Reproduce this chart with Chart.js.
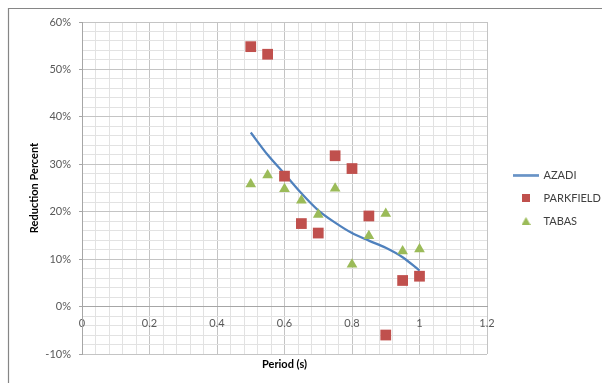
<!DOCTYPE html>
<html>
<head>
<meta charset="utf-8">
<script src="https://cdn.jsdelivr.net/npm/chart.js@4/dist/chart.umd.min.js"></script>
<style>
html,body{margin:0;padding:0;background:#fff;}
#wrap{position:relative;width:602px;height:383px;}
</style>
</head>
<body>
<div id="wrap"><canvas id="c" width="602" height="383"></canvas></div>
<script>
// ---- data ----
const periods = [0.5, 0.55, 0.6, 0.65, 0.7, 0.75, 0.8, 0.85, 0.9, 0.95, 1.0];
const azadi = [36.7, 32.0, 28.0, 23.9, 20.3, 17.7, 15.5, 13.9, 12.4, 10.4, 7.6];
const parkfield = [54.8, 53.2, 27.5, 17.5, 15.5, 31.8, 29.1, 19.1, -6.0, 5.5, 6.4];
const tabas = [25.8, 27.7, 24.8, 22.4, 19.4, 24.9, 8.9, 14.9, 19.6, 11.7, 12.1];
const seriesNames = ['AZADI', 'PARKFIELD', 'TABAS'];
const xTickLabels = ['0', '0.2', '0.4', '0.6', '0.8', '1', '1.2'];
const yTickLabels = ['-10%', '0%', '10%', '20%', '30%', '40%', '50%', '60%'];
const xTitle = 'Period (s)';
const yTitle = 'Reduction Percent';

const BLUE = '#4F81BD', RED = '#C0504D', GREEN = '#9BBB59';
Chart.defaults.font.family = 'Lato, "Open Sans", sans-serif';
Chart.defaults.font.size = 11;

function pts(ys){ return periods.map((x,i)=>({x:x, y:ys[i]})); }
function isMajor(v, step){ const r = v/step; return Math.abs(r - Math.round(r)) < 1e-6; }

// legend icons
function mk(w,h,draw){ const c=document.createElement('canvas'); c.width=w; c.height=h; draw(c.getContext('2d')); return c; }
const icons = [
  mk(26,3,g=>{ g.fillStyle=BLUE; g.fillRect(0,0.5,26,2.2); }),
  mk(8,8,g=>{ g.fillStyle=RED; g.fillRect(0,0,8,8); }),
  mk(9,8,g=>{ g.fillStyle=GREEN; g.beginPath(); g.moveTo(4.5,0); g.lineTo(9,8); g.lineTo(0,8); g.closePath(); g.fill(); })
];

const framePlugin = {
  id:'frame',
  beforeDraw(chart){
    const ctx = chart.ctx;
    ctx.save();
    ctx.strokeStyle = '#868686';
    ctx.lineWidth = 1.2;
    ctx.beginPath();
    ctx.moveTo(8.5, 400); ctx.lineTo(8.5, 8.5); ctx.lineTo(620, 8.5);
    ctx.stroke();
    ctx.restore();
  },
  afterDraw(chart){
    const ctx = chart.ctx, a = chart.chartArea;
    ctx.save();
    ctx.font = 'bold 11px Lato, "Open Sans", sans-serif';
    ctx.fillStyle = '#000';
    ctx.textAlign = 'center';
    ctx.textBaseline = 'middle';
    ctx.fillText(xTitle, (a.left + a.right)/2, 364);
    ctx.restore();
  }
};

new Chart(document.getElementById('c'), {
  type: 'scatter',
  data: {
    datasets: [
      { label: seriesNames[0], type:'line', data: pts(azadi), showLine:true, borderColor: BLUE, backgroundColor: BLUE,
        borderWidth: 2.25, pointRadius: 0, cubicInterpolationMode:'monotone', order: 2 },
      { label: seriesNames[1], data: pts(parkfield), pointStyle:'rect', pointRadius: 7.6, pointHoverRadius: 7.6,
        backgroundColor: RED, borderColor: RED, borderWidth: 0, order: 1 },
      { label: seriesNames[2], data: pts(tabas), pointStyle:'triangle', pointRadius: 6.2, pointHoverRadius: 6.2,
        backgroundColor: GREEN, borderColor: GREEN, borderWidth: 0, order: 0 }
    ]
  },
  options: {
    responsive: false,
    animation: false,
    events: [],
    layout: { padding: { top: 22, bottom: 29, left: 0, right: 0 } },
    scales: {
      x: {
        type: 'linear', min: 0, max: 1.2,
        position: { y: 0 },
        ticks: {
          stepSize: 0.04, autoSkip: false, maxTicksLimit: 100, maxRotation: 0, padding: 10,
          color: '#595959', font: { size: 11 },
          callback: v => isMajor(v, 0.2) ? xTickLabels[Math.round(v/0.2)] : ''
        },
        grid: {
          drawTicks: false,
          color: c => isMajor(c.tick.value, 0.2) ? '#c4c4c4' : '#e2e2e2'
        },
        border: { color: '#a6a6a6' }
      },
      y: {
        type: 'linear', min: -10, max: 60,
        ticks: {
          stepSize: 2, autoSkip: false, maxTicksLimit: 100, padding: 8,
          color: '#595959', font: { size: 11 },
          callback: v => isMajor(v, 10) ? yTickLabels[Math.round((v + 10)/10)] : ''
        },
        grid: {
          tickLength: 3,
          color: c => isMajor(c.tick.value, 10) ? '#c4c4c4' : '#e2e2e2',
          tickColor: c => isMajor(c.tick.value, 10) ? '#a6a6a6' : 'rgba(0,0,0,0)'
        },
        border: { color: '#a6a6a6' },
        title: { display: true, text: yTitle, color: '#000', font: { size: 11, weight: 'bold' }, padding: { top: 28, bottom: 0 } },
        afterFit: s => { s.width = 82; }
      },
      yPad: {
        type: 'linear', position: 'right', display: true,
        ticks: { display: false }, grid: { display: false }, border: { display: false },
        afterFit: s => { s.width = 15; }
      }
    },
    plugins: {
      tooltip: { enabled: false },
      legend: {
        position: 'right', align: 'center', maxWidth: 100,
        title: { display: true, text: '', padding: 0, font: { size: 20, lineHeight: 1 } },
        labels: {
          usePointStyle: true, pointStyleWidth: 24, padding: 12,
          color: '#404040', font: { size: 11 },
          sort: (a, b) => a.datasetIndex - b.datasetIndex,
          generateLabels: chart => {
            const items = Chart.defaults.plugins.legend.labels.generateLabels(chart);
            items.forEach(it => { it.pointStyle = icons[it.datasetIndex]; });
            return items;
          }
        }
      }
    }
  },
  plugins: [framePlugin]
});
</script>
</body>
</html>
